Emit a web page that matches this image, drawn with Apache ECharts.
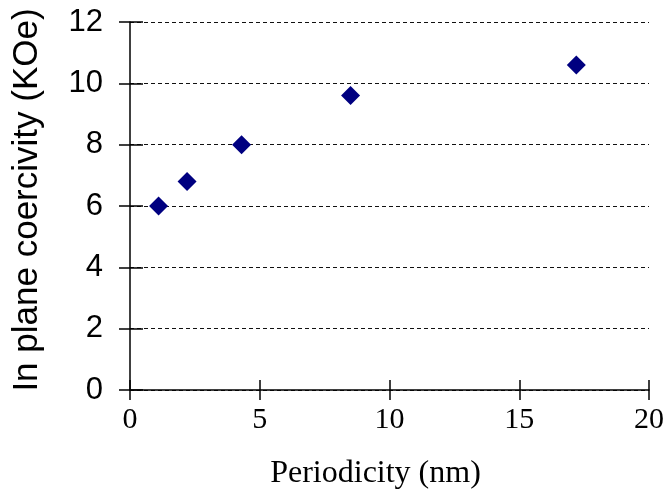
<!DOCTYPE html>
<html>
<head>
<meta charset="utf-8">
<script src="https://cdn.jsdelivr.net/npm/echarts@6/dist/echarts.min.js"></script>
<style>
  html, body { margin: 0; padding: 0; background: #fff; }
  #chart { width: 667px; height: 497px; }
</style>
</head>
<body>
<div id="chart"></div>
<script>
// Periodicity of the multilayer (nm) and measured in-plane coercivity (kOe)
const periodicity = [1.1, 2.2, 4.3, 8.5, 17.2];
const coercivity = [6.0, 6.8, 8.0, 9.6, 10.6];

const xTicks = [0, 5, 10, 15, 20];
const yTicks = [0, 2, 4, 6, 8, 10, 12];

const xTitle = 'Periodicity (nm)';
const yTitle = 'In plane coercivity (KOe)';

const points = periodicity.map((p, i) => [p, coercivity[i]]);

const chart = echarts.init(document.getElementById('chart'), null, { renderer: 'canvas' });

const sans = '"Liberation Sans", Arial, sans-serif';
const serif = '"Liberation Serif", "Times New Roman", serif';

chart.setOption({
  animation: false,
  backgroundColor: '#ffffff',
  grid: { left: 130, right: 17, top: 22, bottom: 107, containLabel: false },
  xAxis: [
    {
      type: 'value',
      min: xTicks[0],
      max: xTicks[xTicks.length - 1],
      interval: 5,
      name: xTitle,
      nameLocation: 'middle',
      nameGap: 68,
      nameTextStyle: { fontFamily: serif, fontSize: 32, color: '#000', padding: [0, 28, 0, 0] },
      axisLine: { show: true, lineStyle: { color: '#000', width: 1.5 } },
      axisTick: { show: true, length: 10, lineStyle: { color: '#000', width: 1.5 } },
      axisLabel: { fontFamily: serif, fontSize: 30, color: '#000', margin: 15 },
      splitLine: { show: false }
    },
    {
      // inner half of the x tick marks
      type: 'value',
      position: 'bottom',
      min: xTicks[0],
      max: xTicks[xTicks.length - 1],
      interval: 5,
      axisLine: { show: false },
      axisTick: { show: true, inside: true, length: 10, lineStyle: { color: '#000', width: 1.5 } },
      axisLabel: { show: false },
      splitLine: { show: false }
    }
  ],
  yAxis: [
    {
      type: 'value',
      min: yTicks[0],
      max: yTicks[yTicks.length - 1],
      interval: 2,
      name: yTitle,
      nameLocation: 'middle',
      nameGap: 85,
      nameTextStyle: { fontFamily: sans, fontSize: 35, color: '#000', padding: [0, 0, 0, 12] },
      axisLine: { show: true, lineStyle: { color: '#000', width: 1.5 } },
      axisTick: { show: true, length: 11, lineStyle: { color: '#000', width: 1.5 } },
      axisLabel: { fontFamily: sans, fontSize: 31, color: '#000', margin: 27 },
      splitLine: { show: true, lineStyle: { color: '#111', width: 1, type: [4, 3] } }
    },
    {
      // inner half of the y tick marks
      type: 'value',
      position: 'left',
      min: yTicks[0],
      max: yTicks[yTicks.length - 1],
      interval: 2,
      axisLine: { show: false },
      axisTick: { show: true, inside: true, length: 13, lineStyle: { color: '#000', width: 1.5 } },
      axisLabel: { show: false },
      splitLine: { show: false }
    }
  ],
  series: [
    {
      type: 'scatter',
      data: points,
      symbol: 'diamond',
      symbolSize: [19, 19],
      itemStyle: { color: '#000080', opacity: 1 },
      xAxisIndex: 0,
      yAxisIndex: 0
    }
  ]
});
</script>
</body>
</html>
